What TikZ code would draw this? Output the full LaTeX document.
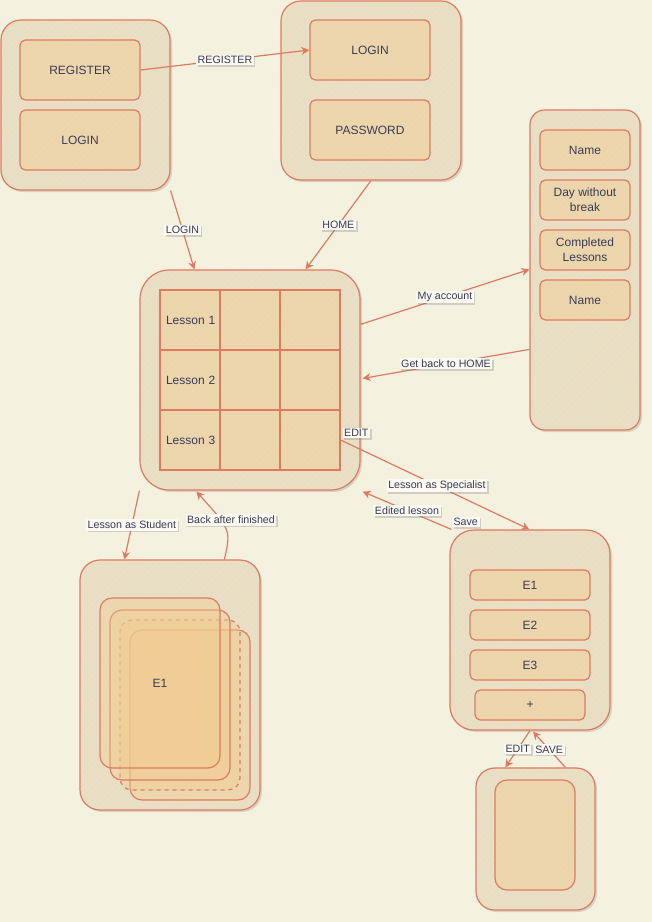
\documentclass[tikz,border=0pt]{standalone}
\usepackage{fontspec}
\setmainfont{Liberation Sans}
\usetikzlibrary{arrows.meta,calc,patterns.meta,shadows}
\definecolor{bg}{HTML}{F4F1DE}
\definecolor{stk}{HTML}{E07A5F}
\definecolor{fll}{HTML}{F2CC8F}
\definecolor{txt}{HTML}{393C56}
\definecolor{contfill}{HTML}{E7DFC8}
\definecolor{conthatch}{HTML}{F2DCB2}
\definecolor{boxfill}{HTML}{EBD5AE}
\definecolor{boxhatch}{HTML}{F4D8A4}
\tikzset{
  sz/.style 2 args={minimum width=#1*0.75pt, minimum height=#2*0.75pt},
  hatched/.style 2 args={preaction={fill=#1},
    preaction={pattern={Lines[angle=45,distance=3.2pt,line width=0.45pt]},pattern color=#2}},
  cont/.style={draw=stk, line width=0.9pt, inner sep=0pt, rounded corners=#1,
    drop shadow={shadow xshift=1.5pt,shadow yshift=-1.5pt,opacity=0.12,fill=black},
    hatched={contfill}{conthatch}},
  cont/.default=15pt,
  box/.style={draw=stk, line width=0.9pt, inner sep=0pt, rounded corners=4pt,
    hatched={boxfill}{boxhatch}, font=\fontsize{9}{11}\selectfont, text=txt, align=center},
  cell/.style={draw=stk, line width=0.9pt, inner sep=0pt, hatched={boxfill}{boxhatch},
    font=\fontsize{9}{11}\selectfont, text=txt, text width=36pt, align=left},
  card/.style={draw=stk, line width=0.9pt, fill=fll, fill opacity=0.4, text opacity=1, inner sep=0pt,
    rounded corners=9pt, font=\fontsize{9}{11}\selectfont, text=txt},
  lbl/.style={fill=bg!40!white, inner sep=1.2pt, font=\fontsize{8}{9}\selectfont, text=txt,
    drop shadow={shadow xshift=1.2pt,shadow yshift=-1.2pt,opacity=0.3,fill=gray}},
  conn/.style={draw=stk, line width=0.9pt, -{Stealth[length=6pt,width=6pt]}},
}
\begin{document}
\begin{tikzpicture}[x=0.75pt,y=-0.75pt]
\fill[bg] (0,0) rectangle (652,922);
\useasboundingbox (0,0) rectangle (652,922);

% top-left container
\node[cont=15pt, sz={169}{170}] (A) at (85.5,105) {};
\node[box, sz={120}{60}] (reg) at (80,70) {REGISTER};
\node[box, sz={120}{60}] (loginA) at (80,140) {LOGIN};

% top-right container
\node[cont=15pt, sz={180}{179}] (B) at (371,90.5) {};
\node[box, sz={120}{60}] (loginB) at (370,50) {LOGIN};
\node[box, sz={120}{60}] (pwd) at (370,130) {PASSWORD};

% central container with grid
\node[cont=22pt, sz={220}{220}] (C) at (250,380) {};
\node[cell, sz={60}{60}] (c11) at (190,320) {\mbox{Lesson 1}};
\node[cell, sz={60}{60}] (c12) at (250,320) {};
\node[cell, sz={60}{60}] (c13) at (310,320) {};
\node[cell, sz={60}{60}] (c21) at (190,380) {\mbox{Lesson 2}};
\node[cell, sz={60}{60}] (c22) at (250,380) {};
\node[cell, sz={60}{60}] (c23) at (310,380) {};
\node[cell, sz={60}{60}] (c31) at (190,440) {\mbox{Lesson 3}};
\node[cell, sz={60}{60}] (c32) at (250,440) {};
\node[cell, sz={60}{60}] (c33) at (310,440) {};

% right account container
\node[cont=11pt, sz={110}{320}] (D) at (585,270) {};
\node[box, sz={90}{40}] (n1) at (585,150) {Name};
\node[box, sz={90}{40}] (dwb) at (585,200) {Day without\\break};
\node[box, sz={90}{40}] (cl) at (585,250) {Completed\\Lessons};
\node[box, sz={90}{40}] (n2) at (585,300) {Name};

% bottom-right editor container
\node[cont=18pt, sz={160}{200}] (E) at (530,630) {};
\node[box, sz={120}{30}] (e1) at (530,585) {E1};
\node[box, sz={120}{30}] (e2) at (530,625) {E2};
\node[box, sz={120}{30}] (e3) at (530,665) {E3};
\node[box, sz={110}{30}] (plus) at (530,705) {+};

% bottom exercise editor
\node[cont=14pt, sz={119}{142}] (F) at (535.5,839) {};
\node[box, rounded corners=9pt, sz={80}{110}] (fin) at (535,835) {};

% bottom-left student container with stacked cards
\node[cont=15pt, sz={180}{250}] (G) at (170,685) {};
\node[card, sz={120}{170}] (k4) at (190,715) {};
\node[card, dashed, sz={120}{170}] (k3) at (180,705) {};
\node[card, sz={120}{170}] (k2) at (170,695) {};
\node[card, sz={120}{170}] (k1) at (160,683) {E1};

% connectors
\draw[conn] (reg.east) -- (loginB.west) node[lbl, pos=0.5] {REGISTER};
\draw[conn] (A.south east) -- ($(C.north west)+(55,0)$) node[lbl, pos=0.5] {LOGIN};
\draw[conn] (B.south) -- ($(C.north east)+(-55,0)$) node[lbl, pos=0.5] {HOME};
\draw[conn] ($(C.north east)+(0,55)$) -- ($(D.north west)+(0,160)$) node[lbl, pos=0.5] {My account};
\draw[conn] ($(D.north west)+(0,240)$) -- ($(C.north east)+(2,109)$) node[lbl, pos=0.5] {Get back to HOME};
\draw[conn] (c33.east) -- ($(E.north west)+(80,0)$)
  node[lbl, pos=0, anchor=south west, xshift=1pt, yshift=1pt] {EDIT}
  node[lbl, pos=0.51] {Lesson as Specialist};
\draw[conn] ($(E.north west)+(2,0)$) -- ($(C.south east)+(2,1)$)
  node[lbl, pos=0, anchor=south west, yshift=1pt] {Save}
  node[lbl, pos=0.5] {Edited lesson};
\draw[conn] (C.south west) -- ($(G.north west)+(45,0)$) node[lbl, pos=0.5] {Lesson as Student};
\draw[conn] ($(G.north west)+(145,0)$) .. controls (231,530) .. ($(C.south west)+(57,1)$);
\node[lbl] (lblback) at (231,520) {Back after finished};
\draw[conn] (E.south) -- ($(F.north west)+(30,0)$) node[lbl, pos=0.5] {EDIT};
\draw[conn] ($(F.north west)+(90,0)$) -- ($(E.south)+(3,1)$) node[lbl, pos=0.5] {SAVE};
\end{tikzpicture}
\end{document}
